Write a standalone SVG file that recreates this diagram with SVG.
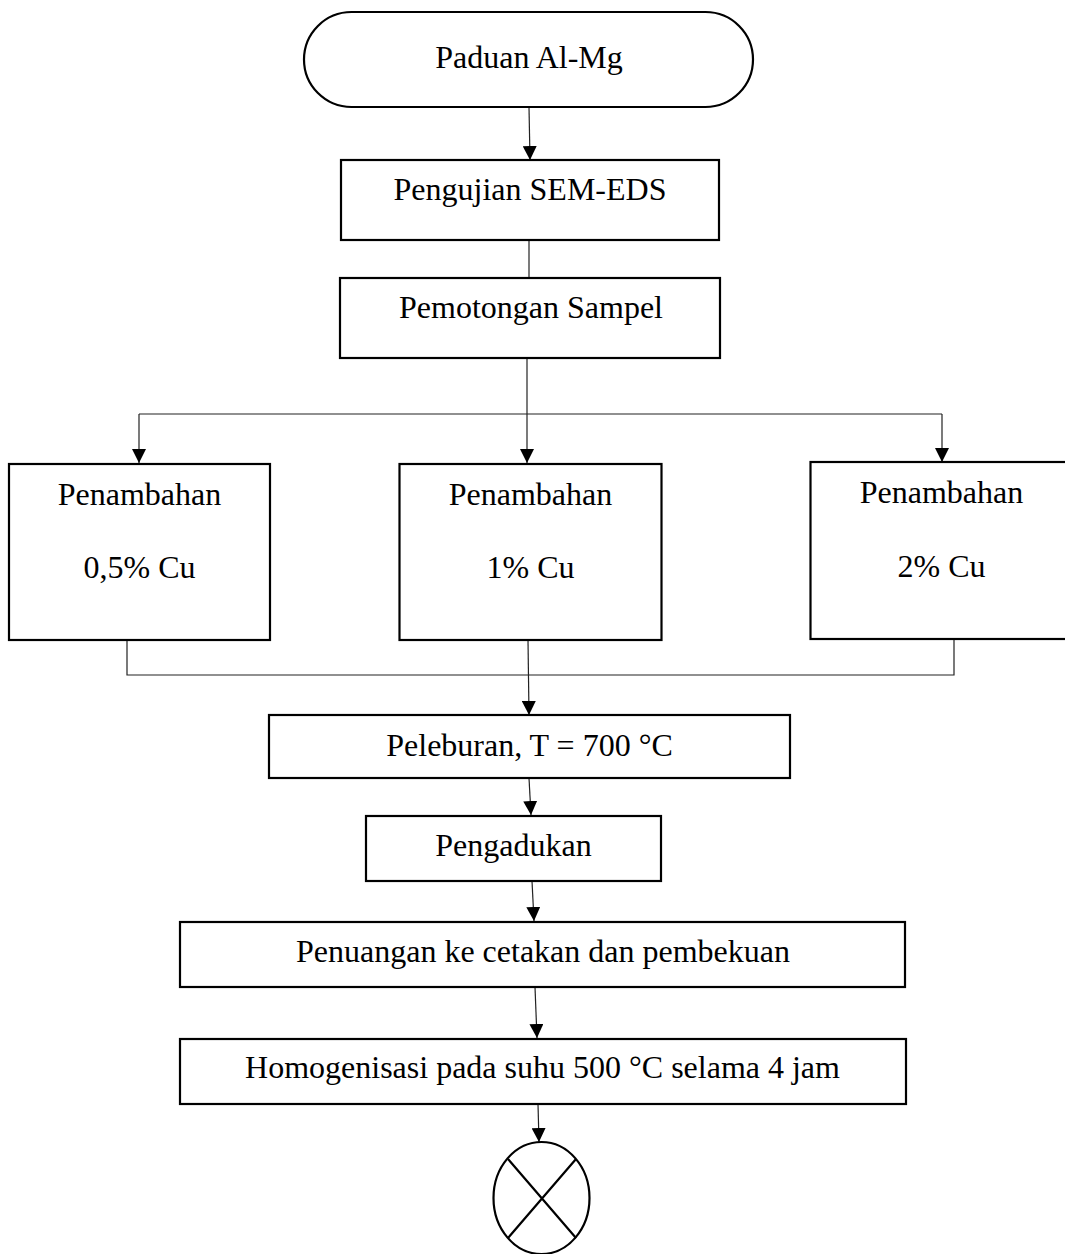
<svg xmlns="http://www.w3.org/2000/svg" width="1065" height="1254" viewBox="0 0 1065 1254">
<style>
.box{fill:#fff;stroke:#000;stroke-width:2.2}
.t{font-family:"Liberation Serif","Times New Roman",serif;font-size:32px;fill:#000;text-anchor:middle}
.c{fill:none;stroke:#222;stroke-width:1.2}
</style>
<defs>
<marker id="ah" markerUnits="userSpaceOnUse" markerWidth="14" markerHeight="14" refX="14" refY="7" orient="auto">
<path d="M0,0 L14,7 L0,14 z" fill="#000"/>
</marker>
</defs>
<rect width="1065" height="1254" fill="#fff"/>
<g id="connectors">
<path class="c" d="M529,107 L530,160" marker-end="url(#ah)"/>
<path class="c" d="M529,240 L529,278"/>
<path class="c" d="M527,358 L527,414"/>
<path class="c" d="M139,414 H942"/>
<path class="c" d="M139,414 V463" marker-end="url(#ah)"/>
<path class="c" d="M527,414 V463" marker-end="url(#ah)"/>
<path class="c" d="M942,414 V462" marker-end="url(#ah)"/>
<path class="c" d="M127,640 V675 H954 V639"/>
<path class="c" d="M528,640 L529,715" marker-end="url(#ah)"/>
<path class="c" d="M529,778 L531,815" marker-end="url(#ah)"/>
<path class="c" d="M532,881 L534,921" marker-end="url(#ah)"/>
<path class="c" d="M535,987 L537,1038" marker-end="url(#ah)"/>
<path class="c" d="M538,1104 L539,1142" marker-end="url(#ah)"/>
</g>
<g id="n-start">
<rect class="box" x="304" y="12" width="449" height="95" rx="47.5" ry="47.5"/>
<text class="t" x="529" y="68">Paduan Al-Mg</text>
</g>
<g id="n-sem">
<rect class="box" x="341" y="160" width="378" height="80"/>
<text class="t" x="530" y="200">Pengujian SEM-EDS</text>
</g>
<g id="n-potong">
<rect class="box" x="340" y="278" width="380" height="80"/>
<text class="t" x="531" y="318">Pemotongan Sampel</text>
</g>
<g id="n-cu05">
<rect class="box" x="9" y="464" width="261" height="176"/>
<text class="t" x="139.5" y="505">Penambahan</text>
<text class="t" x="139.5" y="578">0,5% Cu</text>
</g>
<g id="n-cu1">
<rect class="box" x="399.5" y="464" width="262" height="176"/>
<text class="t" x="530.5" y="505">Penambahan</text>
<text class="t" x="530.5" y="578">1% Cu</text>
</g>
<g id="n-cu2">
<rect class="box" x="810.5" y="462" width="262" height="177"/>
<text class="t" x="941.5" y="503">Penambahan</text>
<text class="t" x="941.5" y="577">2% Cu</text>
</g>
<g id="n-lebur">
<rect class="box" x="269" y="715" width="521" height="63"/>
<text class="t" x="529.5" y="756">Peleburan, T = 700 °C</text>
</g>
<g id="n-aduk">
<rect class="box" x="366" y="816" width="295" height="65"/>
<text class="t" x="513.5" y="856">Pengadukan</text>
</g>
<g id="n-tuang">
<rect class="box" x="180" y="922" width="725" height="65"/>
<text class="t" x="543" y="962">Penuangan ke cetakan dan pembekuan</text>
</g>
<g id="n-homog">
<rect class="box" x="180" y="1039" width="726" height="65"/>
<text class="t" x="542.5" y="1078">Homogenisasi pada suhu 500 °C selama 4 jam</text>
</g>
<g id="n-end">
<ellipse class="box" cx="541.5" cy="1198" rx="48" ry="56"/>
<path d="M508,1159 L576,1238 M576,1159 L508,1238" stroke="#000" stroke-width="2.2" fill="none"/>
</g>
</svg>
